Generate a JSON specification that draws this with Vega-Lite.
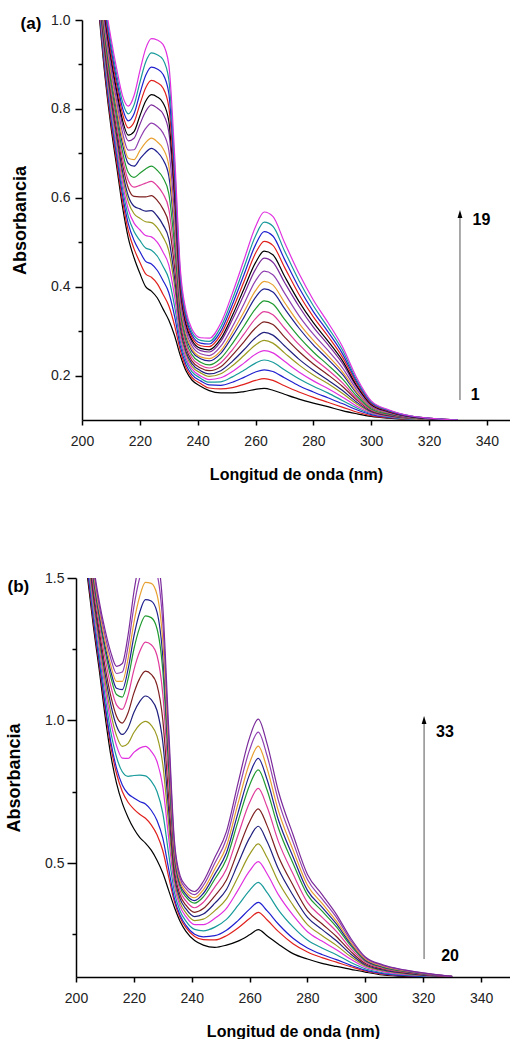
{
"$schema": "https://vega.github.io/schema/vega-lite/v6.json",
"background": "white",
"padding": {"left": 5, "top": 13, "right": 0, "bottom": 0},
"columns": 1,
"align": "none",
"spacing": 89,
"config": {
"view": {"stroke": null},
"font": "Liberation Sans",
"axis": {"domainColor": "#000", "domainWidth": 1.5, "tickColor": "#000", "tickWidth": 1.5, "labelFont": "Liberation Sans", "labelFontSize": 14, "labelColor": "#222", "titleFont": "Liberation Sans", "titleFontWeight": "bold", "titleColor": "#000", "grid": false, "labelOverlap": false, "labelFlush": false},
"title": {"font": "Liberation Sans", "fontWeight": "bold", "fontSize": 17, "color": "#000"}
},
"datasets": {
"a": [
{"s":1,"x":205,"y":1.08},{"s":2,"x":205,"y":1.09},{"s":3,"x":205,"y":1.09},{"s":4,"x":205,"y":1.1},{"s":5,"x":205,"y":1.11},{"s":6,"x":205,"y":1.11},{"s":7,"x":205,"y":1.12},{"s":8,"x":205,"y":1.13},{"s":9,"x":205,"y":1.13},{"s":10,"x":205,"y":1.14},{"s":11,"x":205,"y":1.15},{"s":12,"x":205,"y":1.15},{"s":13,"x":205,"y":1.16},{"s":14,"x":205,"y":1.17},{"s":15,"x":205,"y":1.17},{"s":16,"x":205,"y":1.18},{"s":17,"x":205,"y":1.19},{"s":18,"x":205,"y":1.19},{"s":19,"x":205,"y":1.2},
{"s":1,"x":208,"y":0.87},{"s":2,"x":208,"y":0.879},{"s":3,"x":208,"y":0.888},{"s":4,"x":208,"y":0.898},{"s":5,"x":208,"y":0.907},{"s":6,"x":208,"y":0.916},{"s":7,"x":208,"y":0.924},{"s":8,"x":208,"y":0.934},{"s":9,"x":208,"y":0.944},{"s":10,"x":208,"y":0.954},{"s":11,"x":208,"y":0.966},{"s":12,"x":208,"y":0.973},{"s":13,"x":208,"y":0.983},{"s":14,"x":208,"y":0.995},{"s":15,"x":208,"y":1.002},{"s":16,"x":208,"y":1.012},{"s":17,"x":208,"y":1.021},{"s":18,"x":208,"y":1.03},{"s":19,"x":208,"y":1.04},
{"s":1,"x":210,"y":0.76},{"s":2,"x":210,"y":0.771},{"s":3,"x":210,"y":0.781},{"s":4,"x":210,"y":0.792},{"s":5,"x":210,"y":0.803},{"s":6,"x":210,"y":0.814},{"s":7,"x":210,"y":0.824},{"s":8,"x":210,"y":0.836},{"s":9,"x":210,"y":0.847},{"s":10,"x":210,"y":0.859},{"s":11,"x":210,"y":0.873},{"s":12,"x":210,"y":0.881},{"s":13,"x":210,"y":0.893},{"s":14,"x":210,"y":0.907},{"s":15,"x":210,"y":0.916},{"s":16,"x":210,"y":0.927},{"s":17,"x":210,"y":0.938},{"s":18,"x":210,"y":0.949},{"s":19,"x":210,"y":0.96},
{"s":1,"x":212,"y":0.67},{"s":2,"x":212,"y":0.682},{"s":3,"x":212,"y":0.694},{"s":4,"x":212,"y":0.706},{"s":5,"x":212,"y":0.717},{"s":6,"x":212,"y":0.73},{"s":7,"x":212,"y":0.74},{"s":8,"x":212,"y":0.753},{"s":9,"x":212,"y":0.766},{"s":10,"x":212,"y":0.779},{"s":11,"x":212,"y":0.794},{"s":12,"x":212,"y":0.803},{"s":13,"x":212,"y":0.817},{"s":14,"x":212,"y":0.832},{"s":15,"x":212,"y":0.841},{"s":16,"x":212,"y":0.854},{"s":17,"x":212,"y":0.865},{"s":18,"x":212,"y":0.877},{"s":19,"x":212,"y":0.89},
{"s":1,"x":214,"y":0.58},{"s":2,"x":214,"y":0.594},{"s":3,"x":214,"y":0.607},{"s":4,"x":214,"y":0.621},{"s":5,"x":214,"y":0.634},{"s":6,"x":214,"y":0.648},{"s":7,"x":214,"y":0.66},{"s":8,"x":214,"y":0.675},{"s":9,"x":214,"y":0.689},{"s":10,"x":214,"y":0.704},{"s":11,"x":214,"y":0.721},{"s":12,"x":214,"y":0.732},{"s":13,"x":214,"y":0.747},{"s":14,"x":214,"y":0.764},{"s":15,"x":214,"y":0.775},{"s":16,"x":214,"y":0.789},{"s":17,"x":214,"y":0.802},{"s":18,"x":214,"y":0.816},{"s":19,"x":214,"y":0.83},
{"s":1,"x":216,"y":0.51},{"s":2,"x":216,"y":0.526},{"s":3,"x":216,"y":0.542},{"s":4,"x":216,"y":0.558},{"s":5,"x":216,"y":0.574},{"s":6,"x":216,"y":0.591},{"s":7,"x":216,"y":0.604},{"s":8,"x":216,"y":0.622},{"s":9,"x":216,"y":0.639},{"s":10,"x":216,"y":0.657},{"s":11,"x":216,"y":0.677},{"s":12,"x":216,"y":0.689},{"s":13,"x":216,"y":0.707},{"s":14,"x":216,"y":0.728},{"s":15,"x":216,"y":0.741},{"s":16,"x":216,"y":0.757},{"s":17,"x":216,"y":0.773},{"s":18,"x":216,"y":0.789},{"s":19,"x":216,"y":0.806},
{"s":1,"x":218,"y":0.465},{"s":2,"x":218,"y":0.485},{"s":3,"x":218,"y":0.504},{"s":4,"x":218,"y":0.524},{"s":5,"x":218,"y":0.543},{"s":6,"x":218,"y":0.564},{"s":7,"x":218,"y":0.581},{"s":8,"x":218,"y":0.603},{"s":9,"x":218,"y":0.624},{"s":10,"x":218,"y":0.646},{"s":11,"x":218,"y":0.671},{"s":12,"x":218,"y":0.686},{"s":13,"x":218,"y":0.708},{"s":14,"x":218,"y":0.734},{"s":15,"x":218,"y":0.749},{"s":16,"x":218,"y":0.77},{"s":17,"x":218,"y":0.789},{"s":18,"x":218,"y":0.809},{"s":19,"x":218,"y":0.83},
{"s":1,"x":220,"y":0.43},{"s":2,"x":220,"y":0.455},{"s":3,"x":220,"y":0.479},{"s":4,"x":220,"y":0.504},{"s":5,"x":220,"y":0.528},{"s":6,"x":220,"y":0.554},{"s":7,"x":220,"y":0.575},{"s":8,"x":220,"y":0.602},{"s":9,"x":220,"y":0.628},{"s":10,"x":220,"y":0.655},{"s":11,"x":220,"y":0.687},{"s":12,"x":220,"y":0.706},{"s":13,"x":220,"y":0.733},{"s":14,"x":220,"y":0.765},{"s":15,"x":220,"y":0.784},{"s":16,"x":220,"y":0.81},{"s":17,"x":220,"y":0.834},{"s":18,"x":220,"y":0.859},{"s":19,"x":220,"y":0.885},
{"s":1,"x":222,"y":0.4},{"s":2,"x":222,"y":0.429},{"s":3,"x":222,"y":0.457},{"s":4,"x":222,"y":0.487},{"s":5,"x":222,"y":0.515},{"s":6,"x":222,"y":0.546},{"s":7,"x":222,"y":0.57},{"s":8,"x":222,"y":0.602},{"s":9,"x":222,"y":0.633},{"s":10,"x":222,"y":0.665},{"s":11,"x":222,"y":0.702},{"s":12,"x":222,"y":0.724},{"s":13,"x":222,"y":0.756},{"s":14,"x":222,"y":0.794},{"s":15,"x":222,"y":0.817},{"s":16,"x":222,"y":0.847},{"s":17,"x":222,"y":0.875},{"s":18,"x":222,"y":0.905},{"s":19,"x":222,"y":0.935},
{"s":1,"x":224,"y":0.39},{"s":2,"x":224,"y":0.421},{"s":3,"x":224,"y":0.451},{"s":4,"x":224,"y":0.482},{"s":5,"x":224,"y":0.512},{"s":6,"x":224,"y":0.544},{"s":7,"x":224,"y":0.571},{"s":8,"x":224,"y":0.605},{"s":9,"x":224,"y":0.637},{"s":10,"x":224,"y":0.671},{"s":11,"x":224,"y":0.711},{"s":12,"x":224,"y":0.734},{"s":13,"x":224,"y":0.768},{"s":14,"x":224,"y":0.809},{"s":15,"x":224,"y":0.832},{"s":16,"x":224,"y":0.864},{"s":17,"x":224,"y":0.894},{"s":18,"x":224,"y":0.926},{"s":19,"x":224,"y":0.958},
{"s":1,"x":226,"y":0.375},{"s":2,"x":226,"y":0.407},{"s":3,"x":226,"y":0.437},{"s":4,"x":226,"y":0.469},{"s":5,"x":226,"y":0.5},{"s":6,"x":226,"y":0.533},{"s":7,"x":226,"y":0.559},{"s":8,"x":226,"y":0.594},{"s":9,"x":226,"y":0.627},{"s":10,"x":226,"y":0.662},{"s":11,"x":226,"y":0.703},{"s":12,"x":226,"y":0.726},{"s":13,"x":226,"y":0.761},{"s":14,"x":226,"y":0.802},{"s":15,"x":226,"y":0.827},{"s":16,"x":226,"y":0.859},{"s":17,"x":226,"y":0.89},{"s":18,"x":226,"y":0.922},{"s":19,"x":226,"y":0.955},
{"s":1,"x":228,"y":0.35},{"s":2,"x":228,"y":0.383},{"s":3,"x":228,"y":0.414},{"s":4,"x":228,"y":0.446},{"s":5,"x":228,"y":0.478},{"s":6,"x":228,"y":0.512},{"s":7,"x":228,"y":0.539},{"s":8,"x":228,"y":0.575},{"s":9,"x":228,"y":0.609},{"s":10,"x":228,"y":0.645},{"s":11,"x":228,"y":0.686},{"s":12,"x":228,"y":0.711},{"s":13,"x":228,"y":0.746},{"s":14,"x":228,"y":0.789},{"s":15,"x":228,"y":0.814},{"s":16,"x":228,"y":0.847},{"s":17,"x":228,"y":0.878},{"s":18,"x":228,"y":0.911},{"s":19,"x":228,"y":0.945},
{"s":1,"x":230,"y":0.325},{"s":2,"x":230,"y":0.357},{"s":3,"x":230,"y":0.387},{"s":4,"x":230,"y":0.418},{"s":5,"x":230,"y":0.449},{"s":6,"x":230,"y":0.481},{"s":7,"x":230,"y":0.508},{"s":8,"x":230,"y":0.542},{"s":9,"x":230,"y":0.575},{"s":10,"x":230,"y":0.61},{"s":11,"x":230,"y":0.65},{"s":12,"x":230,"y":0.673},{"s":13,"x":230,"y":0.708},{"s":14,"x":230,"y":0.749},{"s":15,"x":230,"y":0.773},{"s":16,"x":230,"y":0.805},{"s":17,"x":230,"y":0.836},{"s":18,"x":230,"y":0.867},{"s":19,"x":230,"y":0.9},
{"s":1,"x":232,"y":0.29},{"s":2,"x":232,"y":0.313},{"s":3,"x":232,"y":0.334},{"s":4,"x":232,"y":0.356},{"s":5,"x":232,"y":0.378},{"s":6,"x":232,"y":0.402},{"s":7,"x":232,"y":0.42},{"s":8,"x":232,"y":0.445},{"s":9,"x":232,"y":0.468},{"s":10,"x":232,"y":0.493},{"s":11,"x":232,"y":0.522},{"s":12,"x":232,"y":0.538},{"s":13,"x":232,"y":0.563},{"s":14,"x":232,"y":0.592},{"s":15,"x":232,"y":0.609},{"s":16,"x":232,"y":0.632},{"s":17,"x":232,"y":0.654},{"s":18,"x":232,"y":0.677},{"s":19,"x":232,"y":0.7},
{"s":1,"x":234,"y":0.245},{"s":2,"x":234,"y":0.256},{"s":3,"x":234,"y":0.266},{"s":4,"x":234,"y":0.277},{"s":5,"x":234,"y":0.287},{"s":6,"x":234,"y":0.298},{"s":7,"x":234,"y":0.307},{"s":8,"x":234,"y":0.319},{"s":9,"x":234,"y":0.33},{"s":10,"x":234,"y":0.342},{"s":11,"x":234,"y":0.355},{"s":12,"x":234,"y":0.363},{"s":13,"x":234,"y":0.375},{"s":14,"x":234,"y":0.389},{"s":15,"x":234,"y":0.397},{"s":16,"x":234,"y":0.408},{"s":17,"x":234,"y":0.418},{"s":18,"x":234,"y":0.429},{"s":19,"x":234,"y":0.44},
{"s":1,"x":236,"y":0.21},{"s":2,"x":236,"y":0.217},{"s":3,"x":236,"y":0.224},{"s":4,"x":236,"y":0.232},{"s":5,"x":236,"y":0.239},{"s":6,"x":236,"y":0.247},{"s":7,"x":236,"y":0.253},{"s":8,"x":236,"y":0.261},{"s":9,"x":236,"y":0.269},{"s":10,"x":236,"y":0.277},{"s":11,"x":236,"y":0.286},{"s":12,"x":236,"y":0.292},{"s":13,"x":236,"y":0.3},{"s":14,"x":236,"y":0.309},{"s":15,"x":236,"y":0.315},{"s":16,"x":236,"y":0.323},{"s":17,"x":236,"y":0.33},{"s":18,"x":236,"y":0.337},{"s":19,"x":236,"y":0.345},
{"s":1,"x":238,"y":0.19},{"s":2,"x":238,"y":0.196},{"s":3,"x":238,"y":0.202},{"s":4,"x":238,"y":0.209},{"s":5,"x":238,"y":0.215},{"s":6,"x":238,"y":0.221},{"s":7,"x":238,"y":0.227},{"s":8,"x":238,"y":0.233},{"s":9,"x":238,"y":0.24},{"s":10,"x":238,"y":0.247},{"s":11,"x":238,"y":0.255},{"s":12,"x":238,"y":0.26},{"s":13,"x":238,"y":0.267},{"s":14,"x":238,"y":0.275},{"s":15,"x":238,"y":0.28},{"s":16,"x":238,"y":0.286},{"s":17,"x":238,"y":0.292},{"s":18,"x":238,"y":0.298},{"s":19,"x":238,"y":0.305},
{"s":1,"x":241,"y":0.176},{"s":2,"x":241,"y":0.182},{"s":3,"x":241,"y":0.188},{"s":4,"x":241,"y":0.194},{"s":5,"x":241,"y":0.199},{"s":6,"x":241,"y":0.206},{"s":7,"x":241,"y":0.211},{"s":8,"x":241,"y":0.217},{"s":9,"x":241,"y":0.223},{"s":10,"x":241,"y":0.23},{"s":11,"x":241,"y":0.238},{"s":12,"x":241,"y":0.242},{"s":13,"x":241,"y":0.249},{"s":14,"x":241,"y":0.256},{"s":15,"x":241,"y":0.261},{"s":16,"x":241,"y":0.267},{"s":17,"x":241,"y":0.273},{"s":18,"x":241,"y":0.279},{"s":19,"x":241,"y":0.285},
{"s":1,"x":244,"y":0.166},{"s":2,"x":244,"y":0.172},{"s":3,"x":244,"y":0.179},{"s":4,"x":244,"y":0.185},{"s":5,"x":244,"y":0.191},{"s":6,"x":244,"y":0.198},{"s":7,"x":244,"y":0.204},{"s":8,"x":244,"y":0.211},{"s":9,"x":244,"y":0.217},{"s":10,"x":244,"y":0.224},{"s":11,"x":244,"y":0.233},{"s":12,"x":244,"y":0.238},{"s":13,"x":244,"y":0.245},{"s":14,"x":244,"y":0.253},{"s":15,"x":244,"y":0.258},{"s":16,"x":244,"y":0.265},{"s":17,"x":244,"y":0.271},{"s":18,"x":244,"y":0.277},{"s":19,"x":244,"y":0.284},
{"s":1,"x":248,"y":0.161},{"s":2,"x":248,"y":0.17},{"s":3,"x":248,"y":0.178},{"s":4,"x":248,"y":0.186},{"s":5,"x":248,"y":0.195},{"s":6,"x":248,"y":0.204},{"s":7,"x":248,"y":0.211},{"s":8,"x":248,"y":0.22},{"s":9,"x":248,"y":0.229},{"s":10,"x":248,"y":0.239},{"s":11,"x":248,"y":0.25},{"s":12,"x":248,"y":0.256},{"s":13,"x":248,"y":0.266},{"s":14,"x":248,"y":0.277},{"s":15,"x":248,"y":0.283},{"s":16,"x":248,"y":0.292},{"s":17,"x":248,"y":0.3},{"s":18,"x":248,"y":0.309},{"s":19,"x":248,"y":0.318},
{"s":1,"x":252,"y":0.161},{"s":2,"x":252,"y":0.173},{"s":3,"x":252,"y":0.185},{"s":4,"x":252,"y":0.197},{"s":5,"x":252,"y":0.209},{"s":6,"x":252,"y":0.222},{"s":7,"x":252,"y":0.232},{"s":8,"x":252,"y":0.246},{"s":9,"x":252,"y":0.258},{"s":10,"x":252,"y":0.272},{"s":11,"x":252,"y":0.288},{"s":12,"x":252,"y":0.297},{"s":13,"x":252,"y":0.31},{"s":14,"x":252,"y":0.326},{"s":15,"x":252,"y":0.335},{"s":16,"x":252,"y":0.348},{"s":17,"x":252,"y":0.36},{"s":18,"x":252,"y":0.372},{"s":19,"x":252,"y":0.385},
{"s":1,"x":256,"y":0.164},{"s":2,"x":256,"y":0.18},{"s":3,"x":256,"y":0.196},{"s":4,"x":256,"y":0.212},{"s":5,"x":256,"y":0.228},{"s":6,"x":256,"y":0.245},{"s":7,"x":256,"y":0.258},{"s":8,"x":256,"y":0.276},{"s":9,"x":256,"y":0.293},{"s":10,"x":256,"y":0.311},{"s":11,"x":256,"y":0.331},{"s":12,"x":256,"y":0.343},{"s":13,"x":256,"y":0.361},{"s":14,"x":256,"y":0.382},{"s":15,"x":256,"y":0.395},{"s":16,"x":256,"y":0.411},{"s":17,"x":256,"y":0.427},{"s":18,"x":256,"y":0.443},{"s":19,"x":256,"y":0.46},
{"s":1,"x":260,"y":0.169},{"s":2,"x":260,"y":0.189},{"s":3,"x":260,"y":0.208},{"s":4,"x":260,"y":0.228},{"s":5,"x":260,"y":0.248},{"s":6,"x":260,"y":0.269},{"s":7,"x":260,"y":0.285},{"s":8,"x":260,"y":0.307},{"s":9,"x":260,"y":0.328},{"s":10,"x":260,"y":0.35},{"s":11,"x":260,"y":0.376},{"s":12,"x":260,"y":0.391},{"s":13,"x":260,"y":0.413},{"s":14,"x":260,"y":0.439},{"s":15,"x":260,"y":0.454},{"s":16,"x":260,"y":0.475},{"s":17,"x":260,"y":0.494},{"s":18,"x":260,"y":0.514},{"s":19,"x":260,"y":0.535},
{"s":1,"x":263,"y":0.171},{"s":2,"x":263,"y":0.193},{"s":3,"x":263,"y":0.213},{"s":4,"x":263,"y":0.235},{"s":5,"x":263,"y":0.256},{"s":6,"x":263,"y":0.279},{"s":7,"x":263,"y":0.297},{"s":8,"x":263,"y":0.321},{"s":9,"x":263,"y":0.344},{"s":10,"x":263,"y":0.368},{"s":11,"x":263,"y":0.395},{"s":12,"x":263,"y":0.412},{"s":13,"x":263,"y":0.435},{"s":14,"x":263,"y":0.464},{"s":15,"x":263,"y":0.48},{"s":16,"x":263,"y":0.502},{"s":17,"x":263,"y":0.524},{"s":18,"x":263,"y":0.545},{"s":19,"x":263,"y":0.568},
{"s":1,"x":266,"y":0.167},{"s":2,"x":266,"y":0.189},{"s":3,"x":266,"y":0.209},{"s":4,"x":266,"y":0.23},{"s":5,"x":266,"y":0.251},{"s":6,"x":266,"y":0.273},{"s":7,"x":266,"y":0.291},{"s":8,"x":266,"y":0.315},{"s":9,"x":266,"y":0.337},{"s":10,"x":266,"y":0.361},{"s":11,"x":266,"y":0.388},{"s":12,"x":266,"y":0.404},{"s":13,"x":266,"y":0.427},{"s":14,"x":266,"y":0.455},{"s":15,"x":266,"y":0.472},{"s":16,"x":266,"y":0.493},{"s":17,"x":266,"y":0.514},{"s":18,"x":266,"y":0.536},{"s":19,"x":266,"y":0.558},
{"s":1,"x":270,"y":0.158},{"s":2,"x":270,"y":0.177},{"s":3,"x":270,"y":0.195},{"s":4,"x":270,"y":0.213},{"s":5,"x":270,"y":0.232},{"s":6,"x":270,"y":0.251},{"s":7,"x":270,"y":0.267},{"s":8,"x":270,"y":0.287},{"s":9,"x":270,"y":0.307},{"s":10,"x":270,"y":0.327},{"s":11,"x":270,"y":0.351},{"s":12,"x":270,"y":0.365},{"s":13,"x":270,"y":0.386},{"s":14,"x":270,"y":0.41},{"s":15,"x":270,"y":0.424},{"s":16,"x":270,"y":0.444},{"s":17,"x":270,"y":0.462},{"s":18,"x":270,"y":0.481},{"s":19,"x":270,"y":0.5},
{"s":1,"x":275,"y":0.147},{"s":2,"x":275,"y":0.163},{"s":3,"x":275,"y":0.177},{"s":4,"x":275,"y":0.193},{"s":5,"x":275,"y":0.208},{"s":6,"x":275,"y":0.224},{"s":7,"x":275,"y":0.237},{"s":8,"x":275,"y":0.254},{"s":9,"x":275,"y":0.27},{"s":10,"x":275,"y":0.287},{"s":11,"x":275,"y":0.307},{"s":12,"x":275,"y":0.318},{"s":13,"x":275,"y":0.335},{"s":14,"x":275,"y":0.356},{"s":15,"x":275,"y":0.367},{"s":16,"x":275,"y":0.383},{"s":17,"x":275,"y":0.398},{"s":18,"x":275,"y":0.414},{"s":19,"x":275,"y":0.43},
{"s":1,"x":280,"y":0.138},{"s":2,"x":280,"y":0.151},{"s":3,"x":280,"y":0.163},{"s":4,"x":280,"y":0.176},{"s":5,"x":280,"y":0.188},{"s":6,"x":280,"y":0.201},{"s":7,"x":280,"y":0.212},{"s":8,"x":280,"y":0.226},{"s":9,"x":280,"y":0.239},{"s":10,"x":280,"y":0.253},{"s":11,"x":280,"y":0.269},{"s":12,"x":280,"y":0.279},{"s":13,"x":280,"y":0.293},{"s":14,"x":280,"y":0.309},{"s":15,"x":280,"y":0.319},{"s":16,"x":280,"y":0.332},{"s":17,"x":280,"y":0.344},{"s":18,"x":280,"y":0.357},{"s":19,"x":280,"y":0.37},
{"s":1,"x":285,"y":0.13},{"s":2,"x":285,"y":0.14},{"s":3,"x":285,"y":0.15},{"s":4,"x":285,"y":0.161},{"s":5,"x":285,"y":0.171},{"s":6,"x":285,"y":0.182},{"s":7,"x":285,"y":0.19},{"s":8,"x":285,"y":0.202},{"s":9,"x":285,"y":0.213},{"s":10,"x":285,"y":0.224},{"s":11,"x":285,"y":0.237},{"s":12,"x":285,"y":0.245},{"s":13,"x":285,"y":0.257},{"s":14,"x":285,"y":0.27},{"s":15,"x":285,"y":0.278},{"s":16,"x":285,"y":0.289},{"s":17,"x":285,"y":0.299},{"s":18,"x":285,"y":0.309},{"s":19,"x":285,"y":0.32},
{"s":1,"x":290,"y":0.121},{"s":2,"x":290,"y":0.129},{"s":3,"x":290,"y":0.137},{"s":4,"x":290,"y":0.144},{"s":5,"x":290,"y":0.152},{"s":6,"x":290,"y":0.16},{"s":7,"x":290,"y":0.167},{"s":8,"x":290,"y":0.176},{"s":9,"x":290,"y":0.184},{"s":10,"x":290,"y":0.193},{"s":11,"x":290,"y":0.203},{"s":12,"x":290,"y":0.209},{"s":13,"x":290,"y":0.218},{"s":14,"x":290,"y":0.228},{"s":15,"x":290,"y":0.234},{"s":16,"x":290,"y":0.242},{"s":17,"x":290,"y":0.25},{"s":18,"x":290,"y":0.258},{"s":19,"x":290,"y":0.266},
{"s":1,"x":295,"y":0.114},{"s":2,"x":295,"y":0.118},{"s":3,"x":295,"y":0.123},{"s":4,"x":295,"y":0.127},{"s":5,"x":295,"y":0.131},{"s":6,"x":295,"y":0.136},{"s":7,"x":295,"y":0.14},{"s":8,"x":295,"y":0.145},{"s":9,"x":295,"y":0.149},{"s":10,"x":295,"y":0.154},{"s":11,"x":295,"y":0.16},{"s":12,"x":295,"y":0.163},{"s":13,"x":295,"y":0.168},{"s":14,"x":295,"y":0.174},{"s":15,"x":295,"y":0.177},{"s":16,"x":295,"y":0.182},{"s":17,"x":295,"y":0.186},{"s":18,"x":295,"y":0.19},{"s":19,"x":295,"y":0.195},
{"s":1,"x":300,"y":0.108},{"s":2,"x":300,"y":0.11},{"s":3,"x":300,"y":0.112},{"s":4,"x":300,"y":0.114},{"s":5,"x":300,"y":0.116},{"s":6,"x":300,"y":0.118},{"s":7,"x":300,"y":0.119},{"s":8,"x":300,"y":0.121},{"s":9,"x":300,"y":0.123},{"s":10,"x":300,"y":0.125},{"s":11,"x":300,"y":0.128},{"s":12,"x":300,"y":0.129},{"s":13,"x":300,"y":0.131},{"s":14,"x":300,"y":0.134},{"s":15,"x":300,"y":0.135},{"s":16,"x":300,"y":0.137},{"s":17,"x":300,"y":0.139},{"s":18,"x":300,"y":0.141},{"s":19,"x":300,"y":0.143},
{"s":1,"x":306,"y":0.104},{"s":2,"x":306,"y":0.105},{"s":3,"x":306,"y":0.106},{"s":4,"x":306,"y":0.107},{"s":5,"x":306,"y":0.108},{"s":6,"x":306,"y":0.109},{"s":7,"x":306,"y":0.11},{"s":8,"x":306,"y":0.111},{"s":9,"x":306,"y":0.112},{"s":10,"x":306,"y":0.113},{"s":11,"x":306,"y":0.115},{"s":12,"x":306,"y":0.116},{"s":13,"x":306,"y":0.117},{"s":14,"x":306,"y":0.118},{"s":15,"x":306,"y":0.119},{"s":16,"x":306,"y":0.12},{"s":17,"x":306,"y":0.121},{"s":18,"x":306,"y":0.122},{"s":19,"x":306,"y":0.123},
{"s":1,"x":314,"y":0.101},{"s":2,"x":314,"y":0.101},{"s":3,"x":314,"y":0.102},{"s":4,"x":314,"y":0.102},{"s":5,"x":314,"y":0.103},{"s":6,"x":314,"y":0.103},{"s":7,"x":314,"y":0.104},{"s":8,"x":314,"y":0.104},{"s":9,"x":314,"y":0.104},{"s":10,"x":314,"y":0.105},{"s":11,"x":314,"y":0.106},{"s":12,"x":314,"y":0.106},{"s":13,"x":314,"y":0.106},{"s":14,"x":314,"y":0.107},{"s":15,"x":314,"y":0.107},{"s":16,"x":314,"y":0.108},{"s":17,"x":314,"y":0.108},{"s":18,"x":314,"y":0.109},{"s":19,"x":314,"y":0.109},
{"s":1,"x":330,"y":0.1},{"s":2,"x":330,"y":0.1},{"s":3,"x":330,"y":0.1},{"s":4,"x":330,"y":0.1},{"s":5,"x":330,"y":0.1},{"s":6,"x":330,"y":0.1},{"s":7,"x":330,"y":0.1},{"s":8,"x":330,"y":0.1},{"s":9,"x":330,"y":0.1},{"s":10,"x":330,"y":0.1},{"s":11,"x":330,"y":0.1},{"s":12,"x":330,"y":0.1},{"s":13,"x":330,"y":0.1},{"s":14,"x":330,"y":0.1},{"s":15,"x":330,"y":0.1},{"s":16,"x":330,"y":0.1},{"s":17,"x":330,"y":0.1},{"s":18,"x":330,"y":0.1},{"s":19,"x":330,"y":0.1}
],
"b": [
{"s":20,"x":204,"y":1.5},{"s":21,"x":204,"y":1.52},{"s":22,"x":204,"y":1.53},{"s":23,"x":204,"y":1.56},{"s":24,"x":204,"y":1.58},{"s":25,"x":204,"y":1.6},{"s":26,"x":204,"y":1.62},{"s":27,"x":204,"y":1.64},{"s":28,"x":204,"y":1.67},{"s":29,"x":204,"y":1.69},{"s":30,"x":204,"y":1.7},{"s":31,"x":204,"y":1.72},{"s":32,"x":204,"y":1.73},{"s":33,"x":204,"y":1.75},
{"s":20,"x":206,"y":1.33},{"s":21,"x":206,"y":1.348},{"s":22,"x":206,"y":1.359},{"s":23,"x":206,"y":1.38},{"s":24,"x":206,"y":1.401},{"s":25,"x":206,"y":1.42},{"s":26,"x":206,"y":1.438},{"s":27,"x":206,"y":1.456},{"s":28,"x":206,"y":1.478},{"s":29,"x":206,"y":1.497},{"s":30,"x":206,"y":1.509},{"s":31,"x":206,"y":1.522},{"s":32,"x":206,"y":1.536},{"s":33,"x":206,"y":1.55},
{"s":20,"x":208,"y":1.18},{"s":21,"x":208,"y":1.2},{"s":22,"x":208,"y":1.211},{"s":23,"x":208,"y":1.234},{"s":24,"x":208,"y":1.258},{"s":25,"x":208,"y":1.278},{"s":26,"x":208,"y":1.298},{"s":27,"x":208,"y":1.318},{"s":28,"x":208,"y":1.341},{"s":29,"x":208,"y":1.362},{"s":30,"x":208,"y":1.375},{"s":31,"x":208,"y":1.389},{"s":32,"x":208,"y":1.405},{"s":33,"x":208,"y":1.42},
{"s":20,"x":210,"y":1.02},{"s":21,"x":210,"y":1.045},{"s":22,"x":210,"y":1.059},{"s":23,"x":210,"y":1.088},{"s":24,"x":210,"y":1.117},{"s":25,"x":210,"y":1.142},{"s":26,"x":210,"y":1.167},{"s":27,"x":210,"y":1.192},{"s":28,"x":210,"y":1.221},{"s":29,"x":210,"y":1.248},{"s":30,"x":210,"y":1.264},{"s":31,"x":210,"y":1.281},{"s":32,"x":210,"y":1.301},{"s":33,"x":210,"y":1.32},
{"s":20,"x":212,"y":0.88},{"s":21,"x":212,"y":0.91},{"s":22,"x":212,"y":0.927},{"s":23,"x":212,"y":0.961},{"s":24,"x":212,"y":0.996},{"s":25,"x":212,"y":1.027},{"s":26,"x":212,"y":1.057},{"s":27,"x":212,"y":1.087},{"s":28,"x":212,"y":1.122},{"s":29,"x":212,"y":1.153},{"s":30,"x":212,"y":1.173},{"s":31,"x":212,"y":1.194},{"s":32,"x":212,"y":1.218},{"s":33,"x":212,"y":1.24},
{"s":20,"x":214,"y":0.78},{"s":21,"x":214,"y":0.814},{"s":22,"x":214,"y":0.833},{"s":23,"x":214,"y":0.872},{"s":24,"x":214,"y":0.912},{"s":25,"x":214,"y":0.947},{"s":26,"x":214,"y":0.981},{"s":27,"x":214,"y":1.015},{"s":28,"x":214,"y":1.055},{"s":29,"x":214,"y":1.091},{"s":30,"x":214,"y":1.113},{"s":31,"x":214,"y":1.137},{"s":32,"x":214,"y":1.165},{"s":33,"x":214,"y":1.19},
{"s":20,"x":216,"y":0.71},{"s":21,"x":216,"y":0.751},{"s":22,"x":216,"y":0.774},{"s":23,"x":216,"y":0.82},{"s":24,"x":216,"y":0.868},{"s":25,"x":216,"y":0.909},{"s":26,"x":216,"y":0.951},{"s":27,"x":216,"y":0.991},{"s":28,"x":216,"y":1.039},{"s":29,"x":216,"y":1.082},{"s":30,"x":216,"y":1.108},{"s":31,"x":216,"y":1.137},{"s":32,"x":216,"y":1.17},{"s":33,"x":216,"y":1.2},
{"s":20,"x":218,"y":0.66},{"s":21,"x":218,"y":0.713},{"s":22,"x":218,"y":0.743},{"s":23,"x":218,"y":0.804},{"s":24,"x":218,"y":0.867},{"s":25,"x":218,"y":0.92},{"s":26,"x":218,"y":0.974},{"s":27,"x":218,"y":1.027},{"s":28,"x":218,"y":1.089},{"s":29,"x":218,"y":1.146},{"s":30,"x":218,"y":1.18},{"s":31,"x":218,"y":1.217},{"s":32,"x":218,"y":1.26},{"s":33,"x":218,"y":1.3},
{"s":20,"x":220,"y":0.62},{"s":21,"x":220,"y":0.689},{"s":22,"x":220,"y":0.728},{"s":23,"x":220,"y":0.807},{"s":24,"x":220,"y":0.888},{"s":25,"x":220,"y":0.958},{"s":26,"x":220,"y":1.028},{"s":27,"x":220,"y":1.096},{"s":28,"x":220,"y":1.177},{"s":29,"x":220,"y":1.25},{"s":30,"x":220,"y":1.295},{"s":31,"x":220,"y":1.343},{"s":32,"x":220,"y":1.399},{"s":33,"x":220,"y":1.45},
{"s":20,"x":222,"y":0.59},{"s":21,"x":222,"y":0.671},{"s":22,"x":222,"y":0.716},{"s":23,"x":222,"y":0.808},{"s":24,"x":222,"y":0.903},{"s":25,"x":222,"y":0.985},{"s":26,"x":222,"y":1.066},{"s":27,"x":222,"y":1.147},{"s":28,"x":222,"y":1.241},{"s":29,"x":222,"y":1.326},{"s":30,"x":222,"y":1.379},{"s":31,"x":222,"y":1.435},{"s":32,"x":222,"y":1.5},{"s":33,"x":222,"y":1.56},
{"s":20,"x":224,"y":0.57},{"s":21,"x":224,"y":0.657},{"s":22,"x":224,"y":0.707},{"s":23,"x":224,"y":0.806},{"s":24,"x":224,"y":0.909},{"s":25,"x":224,"y":0.997},{"s":26,"x":224,"y":1.086},{"s":27,"x":224,"y":1.173},{"s":28,"x":224,"y":1.275},{"s":29,"x":224,"y":1.367},{"s":30,"x":224,"y":1.424},{"s":31,"x":224,"y":1.485},{"s":32,"x":224,"y":1.555},{"s":33,"x":224,"y":1.62},
{"s":20,"x":226,"y":0.545},{"s":21,"x":226,"y":0.634},{"s":22,"x":226,"y":0.685},{"s":23,"x":226,"y":0.787},{"s":24,"x":226,"y":0.892},{"s":25,"x":226,"y":0.983},{"s":26,"x":226,"y":1.073},{"s":27,"x":226,"y":1.162},{"s":28,"x":226,"y":1.266},{"s":29,"x":226,"y":1.361},{"s":30,"x":226,"y":1.419},{"s":31,"x":226,"y":1.481},{"s":32,"x":226,"y":1.553},{"s":33,"x":226,"y":1.62},
{"s":20,"x":228,"y":0.51},{"s":21,"x":228,"y":0.599},{"s":22,"x":228,"y":0.649},{"s":23,"x":228,"y":0.751},{"s":24,"x":228,"y":0.856},{"s":25,"x":228,"y":0.945},{"s":26,"x":228,"y":1.035},{"s":27,"x":228,"y":1.124},{"s":28,"x":228,"y":1.228},{"s":29,"x":228,"y":1.322},{"s":30,"x":228,"y":1.38},{"s":31,"x":228,"y":1.442},{"s":32,"x":228,"y":1.514},{"s":33,"x":228,"y":1.58},
{"s":20,"x":230,"y":0.465},{"s":21,"x":230,"y":0.543},{"s":22,"x":230,"y":0.587},{"s":23,"x":230,"y":0.675},{"s":24,"x":230,"y":0.767},{"s":25,"x":230,"y":0.846},{"s":26,"x":230,"y":0.924},{"s":27,"x":230,"y":1.002},{"s":28,"x":230,"y":1.092},{"s":29,"x":230,"y":1.175},{"s":30,"x":230,"y":1.225},{"s":31,"x":230,"y":1.279},{"s":32,"x":230,"y":1.342},{"s":33,"x":230,"y":1.4},
{"s":20,"x":232,"y":0.405},{"s":21,"x":232,"y":0.453},{"s":22,"x":232,"y":0.48},{"s":23,"x":232,"y":0.534},{"s":24,"x":232,"y":0.591},{"s":25,"x":232,"y":0.639},{"s":26,"x":232,"y":0.687},{"s":27,"x":232,"y":0.735},{"s":28,"x":232,"y":0.791},{"s":29,"x":232,"y":0.841},{"s":30,"x":232,"y":0.872},{"s":31,"x":232,"y":0.906},{"s":32,"x":232,"y":0.944},{"s":33,"x":232,"y":0.98},
{"s":20,"x":234,"y":0.345},{"s":21,"x":234,"y":0.365},{"s":22,"x":234,"y":0.376},{"s":23,"x":234,"y":0.398},{"s":24,"x":234,"y":0.421},{"s":25,"x":234,"y":0.441},{"s":26,"x":234,"y":0.46},{"s":27,"x":234,"y":0.48},{"s":28,"x":234,"y":0.503},{"s":29,"x":234,"y":0.523},{"s":30,"x":234,"y":0.536},{"s":31,"x":234,"y":0.55},{"s":32,"x":234,"y":0.565},{"s":33,"x":234,"y":0.58},
{"s":20,"x":236,"y":0.295},{"s":21,"x":236,"y":0.308},{"s":22,"x":236,"y":0.316},{"s":23,"x":236,"y":0.331},{"s":24,"x":236,"y":0.347},{"s":25,"x":236,"y":0.36},{"s":26,"x":236,"y":0.374},{"s":27,"x":236,"y":0.387},{"s":28,"x":236,"y":0.402},{"s":29,"x":236,"y":0.416},{"s":30,"x":236,"y":0.425},{"s":31,"x":236,"y":0.434},{"s":32,"x":236,"y":0.445},{"s":33,"x":236,"y":0.455},
{"s":20,"x":238,"y":0.26},{"s":21,"x":238,"y":0.273},{"s":22,"x":238,"y":0.281},{"s":23,"x":238,"y":0.296},{"s":24,"x":238,"y":0.312},{"s":25,"x":238,"y":0.325},{"s":26,"x":238,"y":0.339},{"s":27,"x":238,"y":0.352},{"s":28,"x":238,"y":0.367},{"s":29,"x":238,"y":0.381},{"s":30,"x":238,"y":0.39},{"s":31,"x":238,"y":0.399},{"s":32,"x":238,"y":0.41},{"s":33,"x":238,"y":0.42},
{"s":20,"x":241,"y":0.228},{"s":21,"x":241,"y":0.242},{"s":22,"x":241,"y":0.25},{"s":23,"x":241,"y":0.267},{"s":24,"x":241,"y":0.284},{"s":25,"x":241,"y":0.298},{"s":26,"x":241,"y":0.312},{"s":27,"x":241,"y":0.327},{"s":28,"x":241,"y":0.343},{"s":29,"x":241,"y":0.359},{"s":30,"x":241,"y":0.368},{"s":31,"x":241,"y":0.378},{"s":32,"x":241,"y":0.389},{"s":33,"x":241,"y":0.4},
{"s":20,"x":244,"y":0.212},{"s":21,"x":244,"y":0.231},{"s":22,"x":244,"y":0.241},{"s":23,"x":244,"y":0.262},{"s":24,"x":244,"y":0.284},{"s":25,"x":244,"y":0.303},{"s":26,"x":244,"y":0.321},{"s":27,"x":244,"y":0.34},{"s":28,"x":244,"y":0.362},{"s":29,"x":244,"y":0.381},{"s":30,"x":244,"y":0.393},{"s":31,"x":244,"y":0.406},{"s":32,"x":244,"y":0.421},{"s":33,"x":244,"y":0.435},
{"s":20,"x":248,"y":0.204},{"s":21,"x":248,"y":0.23},{"s":22,"x":248,"y":0.245},{"s":23,"x":248,"y":0.275},{"s":24,"x":248,"y":0.306},{"s":25,"x":248,"y":0.333},{"s":26,"x":248,"y":0.359},{"s":27,"x":248,"y":0.385},{"s":28,"x":248,"y":0.416},{"s":29,"x":248,"y":0.444},{"s":30,"x":248,"y":0.461},{"s":31,"x":248,"y":0.479},{"s":32,"x":248,"y":0.5},{"s":33,"x":248,"y":0.52},
{"s":20,"x":252,"y":0.212},{"s":21,"x":252,"y":0.245},{"s":22,"x":252,"y":0.264},{"s":23,"x":252,"y":0.302},{"s":24,"x":252,"y":0.341},{"s":25,"x":252,"y":0.374},{"s":26,"x":252,"y":0.407},{"s":27,"x":252,"y":0.44},{"s":28,"x":252,"y":0.479},{"s":29,"x":252,"y":0.514},{"s":30,"x":252,"y":0.536},{"s":31,"x":252,"y":0.559},{"s":32,"x":252,"y":0.585},{"s":33,"x":252,"y":0.61},
{"s":20,"x":256,"y":0.226},{"s":21,"x":256,"y":0.272},{"s":22,"x":256,"y":0.298},{"s":23,"x":256,"y":0.351},{"s":24,"x":256,"y":0.405},{"s":25,"x":256,"y":0.451},{"s":26,"x":256,"y":0.498},{"s":27,"x":256,"y":0.544},{"s":28,"x":256,"y":0.598},{"s":29,"x":256,"y":0.646},{"s":30,"x":256,"y":0.676},{"s":31,"x":256,"y":0.709},{"s":32,"x":256,"y":0.746},{"s":33,"x":256,"y":0.78},
{"s":20,"x":260,"y":0.248},{"s":21,"x":260,"y":0.305},{"s":22,"x":260,"y":0.338},{"s":23,"x":260,"y":0.404},{"s":24,"x":260,"y":0.472},{"s":25,"x":260,"y":0.53},{"s":26,"x":260,"y":0.588},{"s":27,"x":260,"y":0.645},{"s":28,"x":260,"y":0.712},{"s":29,"x":260,"y":0.773},{"s":30,"x":260,"y":0.811},{"s":31,"x":260,"y":0.851},{"s":32,"x":260,"y":0.897},{"s":33,"x":260,"y":0.94},
{"s":20,"x":263,"y":0.266},{"s":21,"x":263,"y":0.327},{"s":22,"x":263,"y":0.362},{"s":23,"x":263,"y":0.432},{"s":24,"x":263,"y":0.505},{"s":25,"x":263,"y":0.567},{"s":26,"x":263,"y":0.629},{"s":27,"x":263,"y":0.69},{"s":28,"x":263,"y":0.762},{"s":29,"x":263,"y":0.827},{"s":30,"x":263,"y":0.867},{"s":31,"x":263,"y":0.91},{"s":32,"x":263,"y":0.959},{"s":33,"x":263,"y":1.005},
{"s":20,"x":266,"y":0.245},{"s":21,"x":266,"y":0.301},{"s":22,"x":266,"y":0.333},{"s":23,"x":266,"y":0.397},{"s":24,"x":266,"y":0.463},{"s":25,"x":266,"y":0.52},{"s":26,"x":266,"y":0.576},{"s":27,"x":266,"y":0.632},{"s":28,"x":266,"y":0.698},{"s":29,"x":266,"y":0.757},{"s":30,"x":266,"y":0.794},{"s":31,"x":266,"y":0.833},{"s":32,"x":266,"y":0.878},{"s":33,"x":266,"y":0.92},
{"s":20,"x":270,"y":0.215},{"s":21,"x":270,"y":0.259},{"s":22,"x":270,"y":0.285},{"s":23,"x":270,"y":0.335},{"s":24,"x":270,"y":0.388},{"s":25,"x":270,"y":0.433},{"s":26,"x":270,"y":0.478},{"s":27,"x":270,"y":0.522},{"s":28,"x":270,"y":0.574},{"s":29,"x":270,"y":0.621},{"s":30,"x":270,"y":0.65},{"s":31,"x":270,"y":0.681},{"s":32,"x":270,"y":0.717},{"s":33,"x":270,"y":0.75},
{"s":20,"x":275,"y":0.182},{"s":21,"x":275,"y":0.217},{"s":22,"x":275,"y":0.236},{"s":23,"x":275,"y":0.276},{"s":24,"x":275,"y":0.317},{"s":25,"x":275,"y":0.352},{"s":26,"x":275,"y":0.387},{"s":27,"x":275,"y":0.422},{"s":28,"x":275,"y":0.462},{"s":29,"x":275,"y":0.499},{"s":30,"x":275,"y":0.522},{"s":31,"x":275,"y":0.546},{"s":32,"x":275,"y":0.574},{"s":33,"x":275,"y":0.6},
{"s":20,"x":280,"y":0.163},{"s":21,"x":280,"y":0.188},{"s":22,"x":280,"y":0.202},{"s":23,"x":280,"y":0.23},{"s":24,"x":280,"y":0.259},{"s":25,"x":280,"y":0.284},{"s":26,"x":280,"y":0.309},{"s":27,"x":280,"y":0.333},{"s":28,"x":280,"y":0.362},{"s":29,"x":280,"y":0.388},{"s":30,"x":280,"y":0.404},{"s":31,"x":280,"y":0.422},{"s":32,"x":280,"y":0.442},{"s":33,"x":280,"y":0.46},
{"s":20,"x":285,"y":0.148},{"s":21,"x":285,"y":0.168},{"s":22,"x":285,"y":0.179},{"s":23,"x":285,"y":0.202},{"s":24,"x":285,"y":0.226},{"s":25,"x":285,"y":0.246},{"s":26,"x":285,"y":0.267},{"s":27,"x":285,"y":0.287},{"s":28,"x":285,"y":0.31},{"s":29,"x":285,"y":0.332},{"s":30,"x":285,"y":0.345},{"s":31,"x":285,"y":0.359},{"s":32,"x":285,"y":0.375},{"s":33,"x":285,"y":0.39},
{"s":20,"x":290,"y":0.137},{"s":21,"x":290,"y":0.152},{"s":22,"x":290,"y":0.161},{"s":23,"x":290,"y":0.178},{"s":24,"x":290,"y":0.196},{"s":25,"x":290,"y":0.211},{"s":26,"x":290,"y":0.227},{"s":27,"x":290,"y":0.242},{"s":28,"x":290,"y":0.26},{"s":29,"x":290,"y":0.276},{"s":30,"x":290,"y":0.286},{"s":31,"x":290,"y":0.296},{"s":32,"x":290,"y":0.309},{"s":33,"x":290,"y":0.32},
{"s":20,"x":295,"y":0.127},{"s":21,"x":295,"y":0.136},{"s":22,"x":295,"y":0.141},{"s":23,"x":295,"y":0.151},{"s":24,"x":295,"y":0.162},{"s":25,"x":295,"y":0.171},{"s":26,"x":295,"y":0.18},{"s":27,"x":295,"y":0.189},{"s":28,"x":295,"y":0.199},{"s":29,"x":295,"y":0.209},{"s":30,"x":295,"y":0.215},{"s":31,"x":295,"y":0.221},{"s":32,"x":295,"y":0.228},{"s":33,"x":295,"y":0.235},
{"s":20,"x":300,"y":0.117},{"s":21,"x":300,"y":0.121},{"s":22,"x":300,"y":0.124},{"s":23,"x":300,"y":0.129},{"s":24,"x":300,"y":0.134},{"s":25,"x":300,"y":0.139},{"s":26,"x":300,"y":0.143},{"s":27,"x":300,"y":0.147},{"s":28,"x":300,"y":0.153},{"s":29,"x":300,"y":0.157},{"s":30,"x":300,"y":0.16},{"s":31,"x":300,"y":0.163},{"s":32,"x":300,"y":0.167},{"s":33,"x":300,"y":0.17},
{"s":20,"x":306,"y":0.107},{"s":21,"x":306,"y":0.11},{"s":22,"x":306,"y":0.112},{"s":23,"x":306,"y":0.115},{"s":24,"x":306,"y":0.119},{"s":25,"x":306,"y":0.122},{"s":26,"x":306,"y":0.125},{"s":27,"x":306,"y":0.128},{"s":28,"x":306,"y":0.131},{"s":29,"x":306,"y":0.134},{"s":30,"x":306,"y":0.136},{"s":31,"x":306,"y":0.138},{"s":32,"x":306,"y":0.141},{"s":33,"x":306,"y":0.143},
{"s":20,"x":314,"y":0.102},{"s":21,"x":314,"y":0.104},{"s":22,"x":314,"y":0.105},{"s":23,"x":314,"y":0.107},{"s":24,"x":314,"y":0.109},{"s":25,"x":314,"y":0.111},{"s":26,"x":314,"y":0.113},{"s":27,"x":314,"y":0.115},{"s":28,"x":314,"y":0.117},{"s":29,"x":314,"y":0.119},{"s":30,"x":314,"y":0.12},{"s":31,"x":314,"y":0.121},{"s":32,"x":314,"y":0.123},{"s":33,"x":314,"y":0.124},
{"s":20,"x":330,"y":0.1},{"s":21,"x":330,"y":0.1},{"s":22,"x":330,"y":0.1},{"s":23,"x":330,"y":0.1},{"s":24,"x":330,"y":0.101},{"s":25,"x":330,"y":0.101},{"s":26,"x":330,"y":0.101},{"s":27,"x":330,"y":0.101},{"s":28,"x":330,"y":0.101},{"s":29,"x":330,"y":0.102},{"s":30,"x":330,"y":0.102},{"s":31,"x":330,"y":0.102},{"s":32,"x":330,"y":0.102},{"s":33,"x":330,"y":0.102}
]
},
"concat": [
{
"width": 434, "height": 400,
"title": {"text": "(a)", "anchor": "start", "frame": "bounds", "baseline": "middle", "offset": 0, "dx": 9, "dy": 28},
"layer": [
{"data": {"name": "a"},
"mark": {"type": "line", "strokeWidth": 1.2, "interpolate": "monotone", "clip": true},
"encoding": {
"x": {"field": "x", "type": "quantitative", "scale": {"domain": [200, 348], "range": [6, 434], "nice": false, "zero": false},
"axis": {"title": "Longitud de onda (nm)", "titleFontSize": 16, "titlePadding": 18, "values": [200,210,220,230,240,250,260,270,280,290,300,310,320,330,340], "format": "d", "labelExpr": "datum.value % 20 == 0 ? datum.label : ''", "tickSize": {"condition": {"test": "datum.value % 20 != 0", "value": 3}, "value": 5}, "labelPadding": 9}},
"y": {"field": "y", "type": "quantitative", "scale": {"domain": [0.1, 1.0], "nice": false, "zero": false},
"axis": {"title": "Absorbancia", "titleFontSize": 18, "titlePadding": 21, "offset": -6, "values": [0.2,0.3,0.4,0.5,0.6,0.7,0.8,0.9,1.0], "labelExpr": "round(datum.value*10) % 2 == 1 ? '' : format(datum.value, '.1f')", "tickSize": {"condition": {"test": "round(datum.value*10) % 2 == 1", "value": 4}, "value": 7}, "labelPadding": 5}},
"color": {"field": "s", "type": "nominal", "legend": null,
"scale": {"domain": [1,2,3,4,5,6,7,8,9,10,11,12,13,14,15,16,17,18,19],
"range": ["#000000","#e0201c","#2020d0","#189a9a","#e030e0","#9a9a20","#20207f","#7f2020","#e03c9c","#209a30","#202090","#e8a030","#9040b0","#7a2a9a","#000000","#e0201c","#2020d0","#189a9a","#e030e0"]}}
}},
{"data": {"values": [{"x": 330.7, "y": 0.145, "y2": 0.558}]},
"mark": {"type": "rule", "color": "#555555", "strokeWidth": 1},
"encoding": {"x": {"field": "x", "type": "quantitative"}, "y": {"field": "y", "type": "quantitative"}, "y2": {"field": "y2"}}},
{"data": {"values": [{"x": 330.7, "y": 0.5635}]},
"mark": {"type": "point", "shape": "M0,-1L0.6,1L-0.6,1Z", "size": 64, "filled": true, "color": "#000000", "opacity": 1},
"encoding": {"x": {"field": "x", "type": "quantitative"}, "y": {"field": "y", "type": "quantitative"}}},
{"data": {"values": [{"x": 338.1, "y": 0.55, "t": "19"}, {"x": 336.0, "y": 0.156, "t": "1"}]},
"mark": {"type": "text", "fontSize": 16, "fontWeight": "bold", "align": "center", "baseline": "middle", "color": "#000000"},
"encoding": {"x": {"field": "x", "type": "quantitative"}, "y": {"field": "y", "type": "quantitative"}, "text": {"field": "t"}}}
]
},
{
"width": 434, "height": 399,
"title": {"text": "(b)", "anchor": "start", "frame": "bounds", "baseline": "middle", "offset": 0, "dx": 2, "dy": 33},
"layer": [
{"data": {"name": "b"},
"mark": {"type": "line", "strokeWidth": 1.2, "interpolate": "monotone", "clip": true},
"encoding": {
"x": {"field": "x", "type": "quantitative", "scale": {"domain": [200, 350], "nice": false, "zero": false},
"axis": {"title": "Longitud de onda (nm)", "titleFontSize": 16, "titlePadding": 18, "values": [200,210,220,230,240,250,260,270,280,290,300,310,320,330,340], "format": "d", "labelExpr": "datum.value % 20 == 0 ? datum.label : ''", "tickSize": {"condition": {"test": "datum.value % 20 != 0", "value": 3}, "value": 5}, "labelPadding": 9}},
"y": {"field": "y", "type": "quantitative", "scale": {"domain": [0.1, 1.5], "nice": false, "zero": false},
"axis": {"title": "Absorbancia", "titleFontSize": 18, "titlePadding": 21, "values": [0.25,0.5,0.75,1.0,1.25,1.5], "labelExpr": "round(datum.value*4) % 2 == 1 ? '' : format(datum.value, '.1f')", "tickSize": {"condition": {"test": "round(datum.value*4) % 2 == 1", "value": 4}, "value": 9}, "labelPadding": 3}},
"color": {"field": "s", "type": "nominal", "legend": null,
"scale": {"domain": [20,21,22,23,24,25,26,27,28,29,30,31,32,33],
"range": ["#000000","#e0201c","#2020d0","#189a9a","#e030e0","#9a9a20","#20207f","#7f2020","#e03c9c","#209a30","#202090","#e8a030","#9040b0","#000000"]}}
}},
{"data": {"values": [{"x": 320.3, "y": 0.163, "y2": 0.995}]},
"mark": {"type": "rule", "color": "#555555", "strokeWidth": 1},
"encoding": {"x": {"field": "x", "type": "quantitative"}, "y": {"field": "y", "type": "quantitative"}, "y2": {"field": "y2"}}},
{"data": {"values": [{"x": 320.3, "y": 1.002}]},
"mark": {"type": "point", "shape": "M0,-1L0.6,1L-0.6,1Z", "size": 64, "filled": true, "color": "#000000", "opacity": 1},
"encoding": {"x": {"field": "x", "type": "quantitative"}, "y": {"field": "y", "type": "quantitative"}}},
{"data": {"values": [{"x": 327.5, "y": 0.96, "t": "33"}, {"x": 329.3, "y": 0.174, "t": "20"}]},
"mark": {"type": "text", "fontSize": 16, "fontWeight": "bold", "align": "center", "baseline": "middle", "color": "#000000"},
"encoding": {"x": {"field": "x", "type": "quantitative"}, "y": {"field": "y", "type": "quantitative"}, "text": {"field": "t"}}}
]
}
]
}
